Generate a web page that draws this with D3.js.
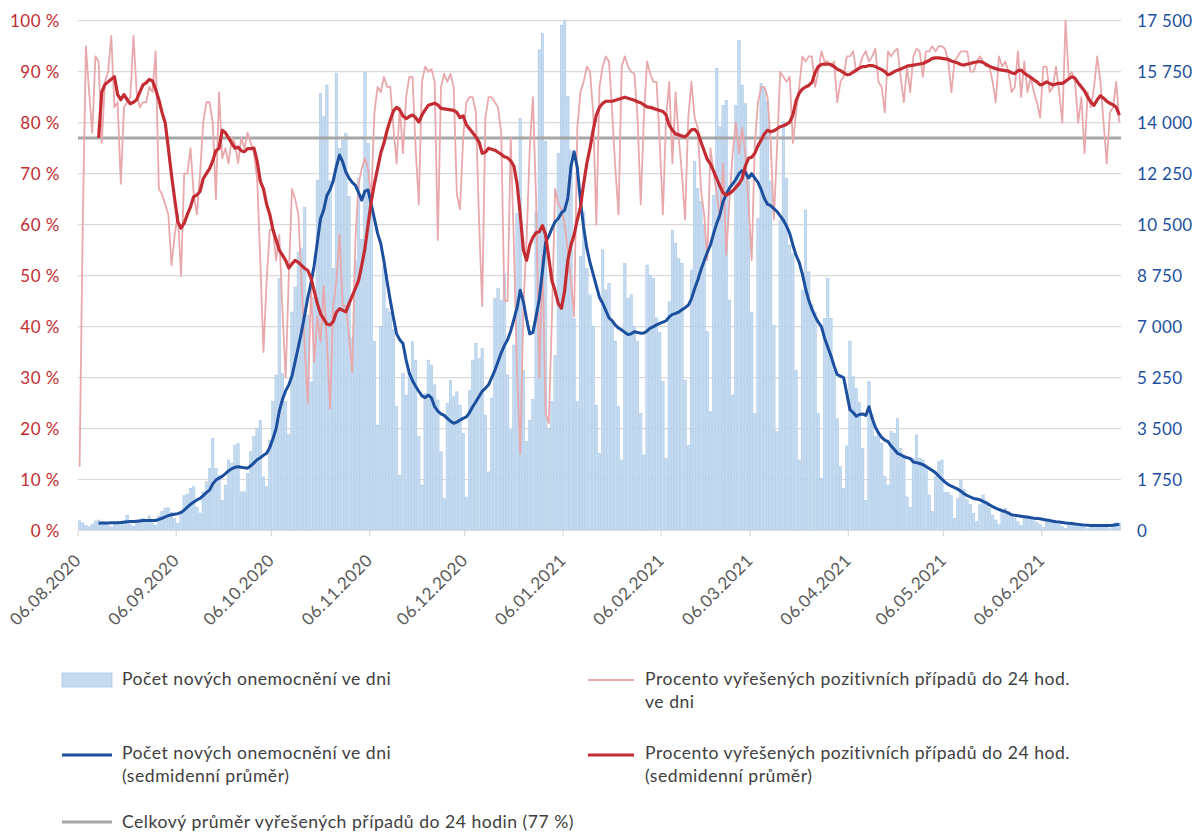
<!DOCTYPE html>
<html><head><meta charset="utf-8">
<script src="https://cdn.jsdelivr.net/npm/d3@7"></script>
<style>
body{margin:0;background:#fff;}
svg text{font-family:Lato,"Open Sans",sans-serif;}
</style></head><body>
<svg id="chart" width="1200" height="832"></svg>
<script>
const startDate = "2020-08-06";
const cases = [
330,260,180,130,220,330,360,300,280,170,120,
260,320,300,350,530,220,150,
290,380,420,380,500,260,170,
500,650,770,780,620,400,250,
650,1200,1250,1450,1500,800,600,
1330,1670,2130,3160,2130,1900,1040,
1560,2420,2300,2930,2990,1330,1330,
1960,2700,3220,3500,3790,1840,1500,
3100,4420,5340,8650,5390,4420,3300,
7500,8360,9560,9680,11100,7400,5100,
8000,12030,15000,14200,15290,12000,9000,
15690,13110,13400,13630,11460,6600,9290,
12080,10000,15740,13290,11000,6500,3620,
7000,9050,7620,7500,6900,4250,1900,
5390,4650,5390,6480,5850,3220,1560,
4700,5850,5680,5000,4480,2700,1100,
4360,5160,4590,4760,4300,3330,1150,
4800,5850,6420,5900,6250,3960,2010,
4530,7960,8300,7910,8820,5340,3450,
6370,10880,14150,5500,3050,3790,4500,
10940,16500,17070,13350,3500,4420,6000,
12950,17350,17500,14890,13050,7280,4420,
9400,10940,9000,8090,7000,4300,2650,
9630,8250,8480,7110,6500,4250,2420,
9170,7970,8090,7000,6500,4020,2590,
9110,8770,8650,7300,6800,5110,2480,
7850,10310,9860,9340,9170,5160,2930,
8940,12660,11740,11290,10500,6830,4080,
11510,15860,13860,14600,14770,7910,4650,
14600,16830,15290,14660,12000,7500,4020,
10710,15350,15180,14720,12000,7050,3390,
10650,14030,12090,9800,9500,5500,2420,
8250,11000,8880,7740,7500,4020,1790,
7280,8650,7280,5500,3850,2190,1450,
2900,6500,5280,4880,4400,2820,1040,
5110,3960,3220,3300,3000,1850,1560,
3390,3330,3850,2820,2530,1150,800,
2480,3280,2480,2420,2200,1220,650,
1850,2360,2420,1300,1300,1200,420,
1100,1730,1400,1050,900,590,300,
880,1220,930,760,530,360,200,
650,760,650,530,420,300,180,
470,420,360,330,280,200,110,
300,290,260,230,200,140,80,
220,230,200,180,160,110,60,
200,210,220,190,170,100,60,
230,280,250];

const pctDaily = [
12.5,60,95,86,78,93,92,76,88,90,97,
83,84,68,83,84,85,97,
86,83,84,84,87,86,94,
67,66,64,62,52,58,62,
50,70,70,75,66,62,70,
80,84,84,80,65,86,73,
75,72,77,76,72,77,75,
78,76,74,69,53,35,49,
59,59,53,58,43,30,50,
67,65,62,49,36,25,48,
33,42,37,48,37,24,44,
49,58,44,44,38,31,57,
68,71,73,71,65,82,87,
86,89,87,87,79,72,83,
74,85,89,89,75,64,88,
91,90,90.5,88,57,87,89.6,
88,89.6,87,66,63,77,84,
85,85,82,61,44,81,85,
85,84,83,78,45,45,77,
56,31,15,44,57,75,85,
65,30,54,23,21,42,67,
64,63,60,55,49,42,79,
86,88,91,90,82,60,87,
91,93,92,82,71,62,91,
93,91,90,89.6,81,64,81,
92,89.6,88,88,76,62,81,
88,72,86,77,70,61,81,
88,81,79,67,62,53,75,
70,66,61,72,54,65,74,
80,74,79,74,64,53,76,
84,87,87,85,76,61,75,
90,89,88,89,76,82,87,
93,92,93,93,87,90,94,
92,92,91,92,84,88,89,
93,93,94,90,91,93,94,
92,93,94.5,88,87,82,94,
93,94,94.5,89,84,91,86,
93,94.5,94,89,94,94,95,
94,95,95,94.5,92,86,92,
93,94,94,94,90,90,92,
93,92,91,91,88,84,93,
91,92,90,86,87,94,85,
92,86,89,86,84,81,91,
91,86,87,91,86,80,100,
89,90,88,80,85,74,86,
83,87,93,88,80,72,82,
83,88,80];

const casesAvg = [
null,null,null,null,null,null,
250,255,255,260,265,
265,270,275,285,300,305,310,
320,330,340,345,345,345,345,
380,420,470,510,540,560,580,
620,700,800,900,980,1050,1100,
1200,1300,1385,1600,1730,1800,1860,
1950,2050,2120,2170,2190,2170,2150,
2140,2220,2320,2430,2500,2580,2650,
2850,3160,3500,4100,4500,4800,5000,
5300,5800,6300,6820,7400,8000,8500,
9100,9900,10700,11000,11500,11700,12000,
12500,12890,12650,12300,12100,11950,11850,
11600,11340,11650,11690,11200,10700,10200,
9850,9250,8550,7900,7300,6750,6550,
6420,5850,5400,5150,4950,4780,4620,
4560,4650,4550,4250,4100,4000,3950,
3850,3750,3680,3720,3790,3850,3900,
4050,4250,4420,4600,4780,4880,5000,
5250,5500,5800,6100,6350,6550,6850,
7250,7650,8250,7850,7250,6750,6800,
7350,7950,8900,9900,10100,10370,10600,
10710,10900,11000,11400,12500,13000,12450,
11300,10400,9700,9200,8800,8400,8000,
7800,7550,7300,7200,7050,6950,6880,
6800,6730,6750,6820,6800,6770,6780,
6850,6950,7000,7060,7110,7150,7200,
7330,7420,7450,7500,7580,7650,7730,
7950,8300,8600,8950,9250,9550,9800,
10200,10550,10850,11300,11550,11750,11900,
12050,12250,12350,12300,12100,12250,12100,
11950,11700,11400,11200,11150,11050,10950,
10800,10650,10450,10200,9800,9450,9200,
8800,8300,7900,7600,7350,7150,7000,
6600,6300,6000,5650,5350,5300,5250,
4700,4150,4050,3920,3980,4000,3950,
4250,3850,3550,3350,3200,3100,3050,
2900,2780,2650,2600,2540,2500,2470,
2350,2330,2300,2260,2200,2130,2060,
1980,1870,1760,1660,1580,1520,1470,
1420,1350,1260,1200,1150,1100,1080,
1050,1000,950,880,820,770,720,
680,650,600,540,520,505,490,
475,460,440,420,410,400,380,
360,340,320,300,290,275,260,
250,240,225,210,195,185,180,
175,170,170,168,168,168,170,
180,195,210];

const pctAvg = [
null,null,null,null,null,null,
77,86,87.5,88,88.5,
89,85.5,84.5,85.5,84.5,83.7,84,
84.5,86,87.4,87.8,88.5,88.2,86.5,
84.5,82,80,75,69.7,65,60.5,
59.3,60.3,62,63.5,65.5,65.8,66.5,
69,70,71,72.5,74.5,75,78.5,
78,77,76,75,75.2,74.5,74.3,
74.9,74.9,75,72.5,68.5,67,64,
62,59,57,55,54,53,51.5,
52.3,53,52.6,52,51.4,51,49.5,
47,44.5,42.5,41.5,40.5,40.3,41,
42.8,43.5,43.2,42.9,44.5,46,47.5,
49,52,55.3,60,64.5,68,71,
74,76,78.5,80.5,82.3,83,82.5,
81.3,80.8,81.2,81.5,81,80.1,81.5,
82.5,83.4,83.6,83.8,83.5,82.8,82.7,
82.6,82.5,82.4,82,81,81.3,79.6,
78.8,78,77.2,76.2,74,74.2,75,
74.8,74.6,74.2,73.8,73.3,73.1,72.5,
71.5,68,62,55,53,56,57.5,
58.4,58.6,59.8,58,53.5,49,47,
44.5,43.6,47,53,56,58,61,
63.5,68,72,75,78.5,81.5,83,
83.8,84.2,84.2,84.2,84.4,84.6,84.8,
85,84.8,84.6,84.4,84.1,83.9,83.5,
83.1,83,82.8,82.6,82.4,82.2,81.5,
79.5,78.5,77.8,77.6,77.4,77.2,77.8,
78.6,78.7,78,76.2,74.5,72.8,71.9,
70.5,69,67.5,66.2,65.8,66.1,66.6,
67.3,68,69,71.5,73,73.2,74,
75.5,76.6,77.8,78.5,78.2,78.4,78.8,
79.2,79.4,79.7,80.1,81.5,84.3,85.8,
86.6,87,87.3,87.9,89.8,91,91.4,
91.5,91.5,91.4,91,90.5,90.2,89.8,
89.4,89.5,89.9,90.3,90.7,91,91,
91.2,91.2,91,90.7,90.4,90,89.4,
89.6,90,90.3,90.5,90.8,91.1,91.2,
91.3,91.4,91.5,91.6,91.9,92.2,92.6,
92.7,92.7,92.6,92.5,92.4,92.1,91.9,
91.7,91.4,91.3,91.5,91.6,91.8,91.9,
92,91.8,91.4,91.1,90.8,90.6,90.4,
90.3,90.2,90.1,89.8,89.6,90.2,90.3,
89.7,89.3,88.9,88.4,88,87.4,87.6,
88,87.7,87.4,87.6,87.7,87.7,88.1,
88.6,89,88.7,87.8,87,86.2,85,
84,83.4,84.5,85.3,84.8,84.2,83.8,
83.5,83,81.5];

const overallPct = 77;
const xTickLabels = ["06.08.2020","06.09.2020","06.10.2020","06.11.2020","06.12.2020","06.01.2021","06.02.2021","06.03.2021","06.04.2021","06.05.2021","06.06.2021"];
const leftTicks = [0,10,20,30,40,50,60,70,80,90,100];
const rightTicks = [0,1750,3500,5250,7000,8750,10500,12250,14000,15750,17500];
const legendBars = "Počet nových onemocnění ve dni";
const legendPctDaily = ["Procento vyřešených pozitivních případů do 24 hod.","ve dni"];
const legendCasesAvg = ["Počet nových onemocnění ve dni","(sedmidenní průměr)"];
const legendPctAvg = ["Procento vyřešených pozitivních případů do 24 hod.","(sedmidenní průměr)"];
const legendOverall = "Celkový průměr vyřešených případů do 24 hodin (77 %)";

const C = {bar:"#c5dbf0", barEdge:"#a3c4e6", blue:"#1c4f9e", red:"#c32c33", pink:"#e8a8ac", gray:"#a6a6a6", grid:"#d9d9d9", txt:"#404040", axisTxt:"#595959"};

const svg = d3.select("#chart");
const parse = d3.utcParse("%Y-%m-%d");
const t0 = parse(startDate);
const nDays = cases.length;
const dates = d3.range(nDays).map(i => d3.utcDay.offset(t0, i));
const L = 78, R = 1121, T = 20.7, B = 530.5;
const x = d3.scaleUtc().domain([t0, d3.utcDay.offset(t0, nDays)]).range([L, R]);
const dayW = x(dates[1]) - x(dates[0]);
const yL = d3.scaleLinear().domain([0,100]).range([B, T]);
const yR = d3.scaleLinear().domain([0,17500]).range([B, T]);
const cx = i => x(dates[i]) + dayW/2;

// grid
svg.append("g").selectAll("line").data(leftTicks.slice(1)).join("line")
  .attr("x1", L).attr("x2", R).attr("y1", d=>yL(d)).attr("y2", d=>yL(d))
  .attr("stroke", C.grid).attr("stroke-width", 1.2);

// bars
svg.append("g").selectAll("rect").data(cases).join("rect")
  .attr("x", (d,i)=>x(dates[i]) + 0.35)
  .attr("width", dayW - 0.7)
  .attr("y", d=>yR(d))
  .attr("height", d=>B - yR(d))
  .attr("fill", C.bar).attr("stroke", C.barEdge).attr("stroke-width", 0.5);

// x axis
const tickDates = xTickLabels.map(s => d3.utcParse("%d.%m.%Y")(s));
svg.append("line").attr("x1", L).attr("x2", R).attr("y1", B).attr("y2", B).attr("stroke", C.grid).attr("stroke-width", 1.2);
svg.append("g").selectAll("line").data(tickDates).join("line")
  .attr("x1", d=>x(d)).attr("x2", d=>x(d)).attr("y1", B).attr("y2", B+6)
  .attr("stroke", C.grid).attr("stroke-width", 1.2);
svg.append("g").selectAll("text").data(tickDates).join("text")
  .attr("transform", d=>`translate(${x(d)+4},${B+31}) rotate(-45)`)
  .attr("text-anchor","end").attr("font-size", 17).attr("letter-spacing", 0.5).attr("fill", C.axisTxt)
  .text((d,i)=>xTickLabels[i]);

// overall average line
svg.append("line").attr("x1", L).attr("x2", R).attr("y1", yL(overallPct)).attr("y2", yL(overallPct))
  .attr("stroke", C.gray).attr("stroke-width", 3);

// lines
const lineL = arr => d3.line().defined(d=>d!=null).x((d,i)=>cx(i)).y(d=>yL(d))(arr);
const lineR = arr => d3.line().defined(d=>d!=null).x((d,i)=>cx(i)).y(d=>yR(d))(arr);
svg.append("path").attr("d", lineL(pctDaily)).attr("fill","none").attr("stroke", C.pink).attr("stroke-width", 1.8).attr("stroke-linejoin","round");
svg.append("path").attr("d", lineR(casesAvg)).attr("fill","none").attr("stroke", C.blue).attr("stroke-width", 3).attr("stroke-linejoin","round");
svg.append("path").attr("d", lineL(pctAvg)).attr("fill","none").attr("stroke", C.red).attr("stroke-width", 3.2).attr("stroke-linejoin","round");

// y axes labels
const fmt = d3.formatLocale({decimal:",", thousands:"\u00a0", grouping:[3], currency:["",""]}).format(",d");
svg.append("g").selectAll("text").data(leftTicks).join("text")
  .attr("x", 60).attr("y", d=>yL(d)).attr("dy","0.36em").attr("text-anchor","end")
  .attr("font-size", 17).attr("letter-spacing", 0.5).attr("fill", C.red).text(d=>d+" %");
svg.append("g").selectAll("text").data(rightTicks).join("text")
  .attr("x", 1137).attr("y", d=>yR(d)).attr("dy","0.36em").attr("text-anchor","start")
  .attr("font-size", 17).attr("letter-spacing", 0.3).attr("fill", C.blue).text(d=>fmt(d));

// legend
const lg = svg.append("g").attr("font-size", 17.6).attr("letter-spacing", 0.5).attr("fill", C.txt);
lg.append("rect").attr("x", 62).attr("y", 673).attr("width", 50).attr("height", 14).attr("fill", C.bar).attr("stroke", C.barEdge).attr("stroke-width", 0.8);
lg.append("text").attr("x", 122).attr("y", 679).attr("dy","0.35em").text(legendBars);
lg.append("line").attr("x1", 588).attr("x2", 634).attr("y1", 680).attr("y2", 680).attr("stroke", C.pink).attr("stroke-width", 1.8);
legendPctDaily.forEach((t,k)=> lg.append("text").attr("x", 645).attr("y", 679 + k*23).attr("dy","0.35em").text(t));
lg.append("line").attr("x1", 62).attr("x2", 112).attr("y1", 755).attr("y2", 755).attr("stroke", C.blue).attr("stroke-width", 3);
legendCasesAvg.forEach((t,k)=> lg.append("text").attr("x", 122).attr("y", 753 + k*22.5).attr("dy","0.35em").text(t));
lg.append("line").attr("x1", 588).attr("x2", 634).attr("y1", 755).attr("y2", 755).attr("stroke", C.red).attr("stroke-width", 3);
legendPctAvg.forEach((t,k)=> lg.append("text").attr("x", 645).attr("y", 753 + k*22.5).attr("dy","0.35em").text(t));
lg.append("line").attr("x1", 62).attr("x2", 112).attr("y1", 822).attr("y2", 822).attr("stroke", C.gray).attr("stroke-width", 3);
lg.append("text").attr("x", 122).attr("y", 822).attr("dy","0.35em").text(legendOverall);
</script>
</body></html>
